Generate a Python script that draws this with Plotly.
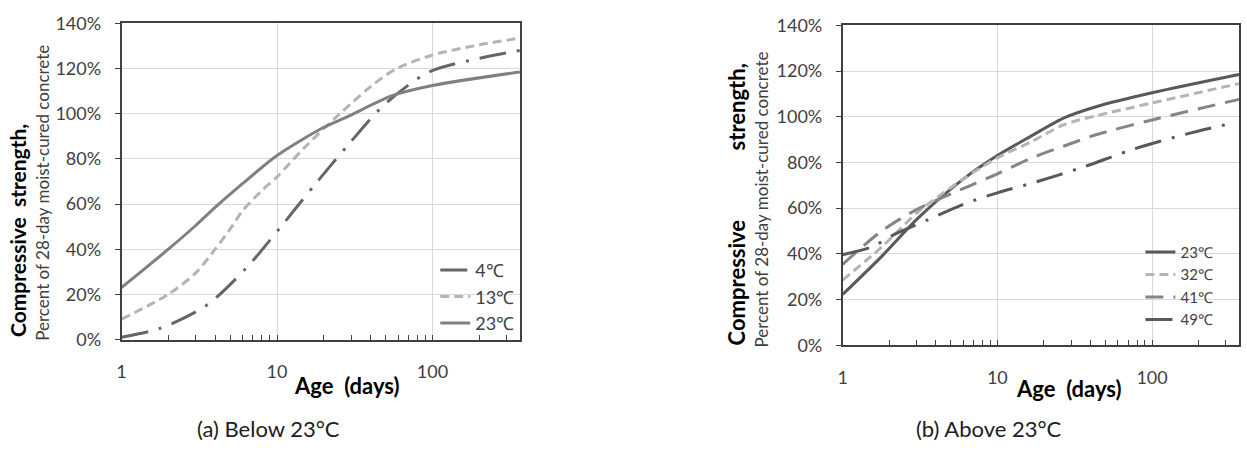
import plotly.graph_objects as go

# ---- data (age in days, strength as fraction of 28-day moist-cured) ----
age_4 = [1, 1.75, 3.5, 6.35, 10.6, 17.7, 29, 49, 95, 205, 365]
str_4 = [0.01, 0.048, 0.15, 0.317, 0.50, 0.69, 0.866, 1.04, 1.185, 1.247, 1.28]

age_13 = [1, 2, 3, 4, 5, 6, 8, 10, 15, 24, 40, 57, 100, 200, 365]
str_13 = [0.09, 0.20, 0.295, 0.40, 0.49, 0.57, 0.66, 0.72, 0.85, 0.985, 1.12, 1.195, 1.26, 1.305, 1.335]

age_23a = [1, 2, 3, 4, 6, 10, 20, 28, 55, 100, 365]
str_23a = [0.23, 0.40, 0.505, 0.585, 0.69, 0.815, 0.94, 0.985, 1.08, 1.125, 1.185]

age_23b = [1, 1.79, 3.07, 6.1, 10, 16.5, 27, 44, 100, 365]
str_23b = [0.222, 0.389, 0.556, 0.73, 0.83, 0.915, 0.995, 1.045, 1.105, 1.185]

age_32 = [1, 1.79, 3.07, 6.1, 10, 16.5, 27, 44, 100, 365]
str_32 = [0.285, 0.43, 0.583, 0.73, 0.82, 0.89, 0.965, 1.005, 1.06, 1.145]

age_41 = [1, 1.79, 3.07, 6.75, 10, 16.5, 27, 44, 100, 365]
str_41 = [0.354, 0.50, 0.597, 0.70, 0.75, 0.818, 0.872, 0.922, 0.986, 1.076]

age_49 = [1, 1.54, 2.18, 3.56, 6.1, 10, 16.5, 36, 75.6, 167, 320]
str_49 = [0.396, 0.43, 0.486, 0.549, 0.618, 0.667, 0.708, 0.78, 0.858, 0.924, 0.97]

x_tickvals = [1, 10, 100]
x_ticktext = ["1", "10", "100"]
y_tickvals = [0, 0.2, 0.4, 0.6, 0.8, 1.0, 1.2, 1.4]

W, H = 1247, 459
FONT = "Lato"
TXT = "#404040"

def px(x):
    return x / W

def py(y):
    return 1 - y / H

fig = go.Figure()

def add(x, y, name, color, dash, xa, ya, legend, group):
    fig.add_trace(go.Scatter(
        x=x, y=y, name=name, mode="lines",
        line=dict(color=color, width=3, dash=dash, shape="spline", smoothing=0.8),
        xaxis=xa, yaxis=ya, legend=legend, legendgroup=group,
        hoverinfo="skip"))

DASHDOT = "27px,11px,3px,11px"
add(age_4, str_4, "4℃", "#666666", DASHDOT, "x", "y", "legend", "a1")
add(age_13, str_13, "13℃", "#b4b4b4", "9px,5px", "x", "y", "legend", "a2")
add(age_23a, str_23a, "23℃", "#808080", "solid", "x", "y", "legend", "a3")

add(age_23b, str_23b, "23℃", "#595959", "solid", "x2", "y2", "legend2", "b1")
add(age_32, str_32, "32℃", "#b4b4b4", "9px,5px", "x2", "y2", "legend2", "b2")
add(age_41, str_41, "41℃", "#858585", "18px,10px", "x2", "y2", "legend2", "b3")
add(age_49, str_49, "49℃", "#595959", DASHDOT, "x2", "y2", "legend2", "b4")

xcommon = dict(
    type="log", range=[0, 2.5623], tickvals=x_tickvals, ticktext=x_ticktext,
    showgrid=True, gridcolor="#d9d9d9", gridwidth=1,
    showline=True, linecolor="#404040", linewidth=1.5, mirror=True,
    ticks="inside", ticklen=5, tickcolor="#404040",
    minor=dict(dtick="D1", ticks="inside", ticklen=5, tickcolor="#404040", showgrid=False),
    tickfont=dict(family=FONT, size=18, color=TXT), ticklabelstandoff=15,
    zeroline=False, fixedrange=True,
)
ycommon = dict(
    range=[0, 1.4], tickvals=y_tickvals, tickformat=".0%",
    showgrid=True, gridcolor="#d9d9d9", gridwidth=1,
    showline=True, linecolor="#404040", linewidth=1.5, mirror=True,
    ticks="outside", ticklen=5, tickcolor="#404040",
    tickfont=dict(family=FONT, size=18, color=TXT), ticklabelstandoff=10,
    zeroline=False, fixedrange=True,
)

fig.update_layout(
    width=W, height=H, margin=dict(l=0, r=0, t=0, b=0),
    paper_bgcolor="white", plot_bgcolor="white",
    font=dict(family=FONT, color=TXT),
    xaxis=dict(xcommon, domain=[px(117), px(517)], anchor="y"),
    yaxis=dict(ycommon, domain=[py(344), py(12)], anchor="x"),
    xaxis2=dict(xcommon, domain=[px(841), px(1239)], anchor="y2"),
    yaxis2=dict(ycommon, domain=[py(350), py(14)], anchor="x2"),
    legend=dict(x=px(432), y=py(252), xanchor="left", yanchor="top",
                bgcolor="rgba(0,0,0,0)", tracegroupgap=0,
                font=dict(family=FONT, size=18, color=TXT)),
    legend2=dict(x=px(1140), y=py(235), xanchor="left", yanchor="top",
                 bgcolor="rgba(0,0,0,0)", tracegroupgap=0,
                 font=dict(family=FONT, size=15, color=TXT)),
    showlegend=True,
)

NB = "\u00a0"
ann = [
    dict(text="<b>Compressive" + NB * 2 + "strength,</b>", x=px(12), y=py(229), size=21, color="#000000"),
    dict(text="Percent of 28-day moist-cured concrete", x=px(38), y=py(190), size=17, color=TXT),
    dict(text="<b>Compressive" + NB * 13 + "strength,</b>", x=px(734), y=py(202), size=22, color="#000000"),
    dict(text="Percent of 28-day moist-cured concrete", x=px(760), y=py(197), size=17, color=TXT),
]
for a in ann:
    fig.add_annotation(text=a["text"], x=a["x"], y=a["y"], xref="paper", yref="paper",
                       xanchor="center", yanchor="middle", textangle=-90, showarrow=False,
                       font=dict(family=FONT, size=a["size"], color=a["color"]))

for t, x, y, s, bold in [
    ("Age" + NB * 2 + "(days)", 343, 392, 22, True),
    ("Age" + NB * 2 + "(days)", 1068, 395, 22, True),
    ("(a) Below 23°C", 265, 437, 22, False),
    ("(b) Above 23°C", 988, 437, 22, False),
]:
    fig.add_annotation(text=f"<b>{t}</b>" if bold else t, x=px(x), y=py(y),
                       xref="paper", yref="paper", xanchor="center", yanchor="middle",
                       showarrow=False,
                       font=dict(family=FONT, size=s, color="#000000" if bold else "#202020"))

fig.write_html("out.html")
